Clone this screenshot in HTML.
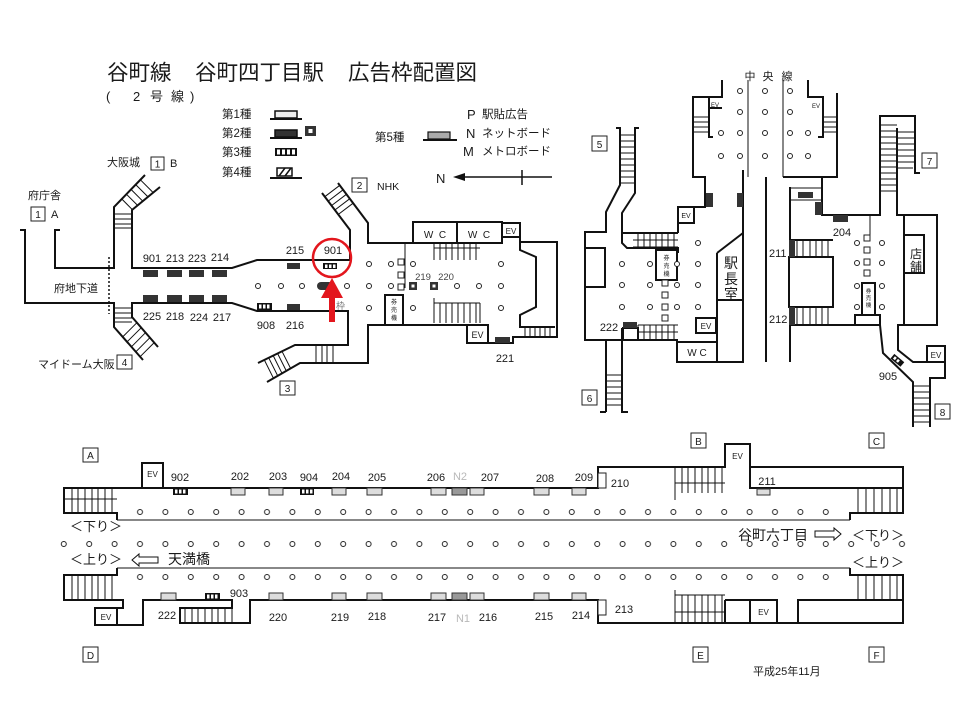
<!DOCTYPE html>
<html><head><meta charset="utf-8">
<style>
html,body{margin:0;padding:0;background:#fff;width:960px;height:720px;overflow:hidden}
svg{display:block}
text{font-family:"Liberation Sans","Noto Sans CJK JP",sans-serif;fill:#1a1a1a}
text.g{fill:#b8b8b8}
text.g4{fill:#444}
text.g6{fill:#777}
.w{fill:none;stroke:#111;stroke-width:2}
.t{fill:none;stroke:#111;stroke-width:1}
.c{fill:#fff;stroke:#222;stroke-width:1}
.d{fill:#333}
.l{fill:#ddd;stroke:#333;stroke-width:1}
.bx{fill:#fff;stroke:#222;stroke-width:1}
</style></head><body>
<svg width="960" height="720" viewBox="0 0 960 720" xmlns="http://www.w3.org/2000/svg">
<defs>
<pattern id="p1" x="127.3" y="505" width="25.4" height="14" patternUnits="userSpaceOnUse"><circle cx="12.7" cy="7" r="2.5" fill="#fff" stroke="#222" stroke-width="1"/></pattern>
<pattern id="p2" x="51.1" y="537" width="25.4" height="14" patternUnits="userSpaceOnUse"><circle cx="12.7" cy="7" r="2.5" fill="#fff" stroke="#222" stroke-width="1"/></pattern>
<pattern id="p3" x="127.3" y="570" width="25.4" height="14" patternUnits="userSpaceOnUse"><circle cx="12.7" cy="7" r="2.5" fill="#fff" stroke="#222" stroke-width="1"/></pattern>
</defs>

<!-- Title -->
<text x="107" y="80" font-size="21.5">谷町線</text>
<text x="195" y="80" font-size="21.5">谷町四丁目駅</text>
<text x="348" y="80" font-size="21.5">広告枠配置図</text>
<text x="106" y="101" font-size="13">(</text>
<text x="133" y="101" font-size="13">2</text>
<text x="150" y="101" font-size="13">号</text>
<text x="171" y="101" font-size="13">線</text>
<text x="190" y="101" font-size="13">)</text>

<!-- Legend -->
<text x="222" y="118" font-size="11.5">第1種</text>
<rect x="275" y="111" width="22" height="7" fill="#eee" stroke="#111" stroke-width="1.5"/>
<line x1="270" y1="119" x2="302" y2="119" stroke="#111" stroke-width="2"/>
<text x="222" y="137" font-size="11.5">第2種</text>
<rect x="275" y="130" width="22" height="7" fill="#333" stroke="#111" stroke-width="1.5"/>
<line x1="270" y1="138" x2="302" y2="138" stroke="#111" stroke-width="2"/>
<rect x="305" y="126" width="11" height="10" fill="#333"/><rect x="308.5" y="129" width="4" height="4" fill="#fff"/>
<text x="222" y="156" font-size="11.5">第3種</text>
<rect x="275" y="148" width="22" height="8" fill="#111"/>
<rect x="277" y="149.5" width="3" height="5" fill="#fff"/><rect x="282" y="149.5" width="3" height="5" fill="#fff"/><rect x="287" y="149.5" width="3" height="5" fill="#fff"/><rect x="292" y="149.5" width="3" height="5" fill="#fff"/>
<text x="222" y="176" font-size="11.5">第4種</text>
<rect x="277" y="168" width="15" height="8" fill="#fff" stroke="#111" stroke-width="1.5"/>
<path d="M279,176 L285,168 M285,176 L291,168" stroke="#111" stroke-width="1.5"/>
<line x1="270" y1="178" x2="302" y2="178" stroke="#111" stroke-width="2"/>
<text x="375" y="141" font-size="11.5">第5種</text>
<rect x="428" y="132" width="22" height="7" fill="#aaa" stroke="#111" stroke-width="1.2"/>
<line x1="423" y1="140" x2="457" y2="140" stroke="#111" stroke-width="2"/>
<text x="467" y="119" font-size="13">P</text><text x="482" y="118" font-size="11.5">駅貼広告</text>
<text x="466" y="138" font-size="13">N</text><text x="482" y="137" font-size="11.5">ネットボード</text>
<text x="463" y="156" font-size="13">M</text><text x="482" y="155" font-size="11.5">メトロボード</text>
<text x="436" y="183" font-size="13">N</text>
<line x1="460" y1="177" x2="552" y2="177" stroke="#111" stroke-width="1.5"/>
<polygon points="453,177 465,173 465,181" fill="#111"/>
<line x1="522" y1="170" x2="522" y2="185" stroke="#111" stroke-width="1.5"/>

<!-- ===== Left concourse (Tanimachi line) ===== -->
<text x="107" y="166" font-size="11">大阪城</text>
<rect x="151" y="157" width="13" height="13" class="bx"/><text x="157.5" y="167.5" font-size="10" text-anchor="middle">1</text>
<text x="170" y="167" font-size="11">B</text>
<text x="28" y="199" font-size="11">府庁舎</text>
<rect x="31" y="207" width="14" height="14" class="bx"/><text x="38" y="218" font-size="10" text-anchor="middle">1</text>
<text x="51" y="218" font-size="11">A</text>
<text x="38" y="368" font-size="11">マイドーム大阪</text>
<rect x="117" y="355" width="15" height="14" class="bx"/><text x="124.5" y="366" font-size="10" text-anchor="middle">4</text>
<rect x="280" y="381" width="15" height="14" class="bx"/><text x="287.5" y="392" font-size="10" text-anchor="middle">3</text>
<rect x="352" y="178" width="15" height="14" class="bx"/><text x="359.5" y="189" font-size="10" text-anchor="middle">2</text>
<text x="377" y="190" font-size="10.5">NHK</text>

<path class="w" d="M20,230 H25 V303 H114 V327 L143,360"/>
<path class="w" d="M60,230 H55 V268 H114 V207 L145,175"/>
<path class="w" d="M160,187 L132,210 V268 H232 L257,260 H350 V230 L322,193"/>
<path class="w" d="M158,347 L132,317 V303 H232 L257,311 H348 V345 H295 L258,363"/>
<path class="w" d="M267,382 L300,363 H368 V325 H467 V343 H513 V337 H557 V242 H520 V237 H502 V223 H520 V237"/>
<path class="w" d="M338,183 L368,223 V243 H413 V222 H502 V243 H413"/>
<line x1="457" y1="222" x2="457" y2="243" class="w"/>
<path class="w" d="M520,242 V250 L536,257 V307 L520,315 V327 H555"/>
<line x1="109" y1="257" x2="109" y2="314" stroke="#111" stroke-width="1.5" stroke-dasharray="2,2"/>
<!-- stair treads left -->
<path class="t" d="M114,214H132M114,219H132M114,224H132M114,228H132
M121.8,199L132.4,209.7M126.4,194.2L137.6,205.4M131,189.4L142.8,201.2M135.7,184.6L148,196.9M140.4,179.8L153.2,192.6
M114,308H132M114,313H132M114,318H132M114,322H132
M122.7,336.9L136.9,322.7M127,341.9L141.3,327.7M131.4,346.8L145.5,332.7M135.8,351.8L149.9,337.7M140.1,356.7L154.2,342.6
M324.8,196.7L339.8,185.3M328.2,201.1L343.1,189.8M331.5,205.6L346.4,194.3M334.9,210L349.8,198.7M338.2,214.5L353.1,203.2
M282,351.3L290.6,368.4M277.6,353.5L286.3,370.9M273.2,355.6L282,373.3M268.7,357.8L277.8,376M264.3,359.9L273.5,378.3
M316,345V363M322,345V363M327,345V363M333,345V363"/>
<!-- center hall details -->
<path class="t" d="M405,243V288 M434,243H480 M434,243V260 M434,248H480 M440,243V260M446,243V260M452,243V260M458,243V260M464,243V260M470,243V260M476,243V260
M434,298V323 M434,303H480 M440,303V323M446,303V323M452,303V323M458,303V323M464,303V323M470,303V323M476,303V323 M480,303V323
M525,327V337M530,327V337M535,327V337M540,327V337M545,327V337M550,327V337"/>
<text x="435" y="238" font-size="10" text-anchor="middle">W&#160;&#160;C</text>
<text x="479" y="238" font-size="10" text-anchor="middle">W&#160;&#160;C</text>
<text x="511" y="234" font-size="8" text-anchor="middle">EV</text>
<rect x="467" y="325" width="21" height="18" fill="#fff" stroke="#111" stroke-width="2"/>
<text x="477.5" y="338" font-size="9" text-anchor="middle">EV</text>
<rect x="385" y="295" width="18" height="30" fill="#fff" stroke="#111" stroke-width="2"/>
<text x="394" y="304" font-size="6" text-anchor="middle">券</text>
<text x="394" y="312" font-size="6" text-anchor="middle">売</text>
<text x="394" y="320" font-size="6" text-anchor="middle">機</text>
<rect x="495" y="337" width="15" height="6" class="d"/>
<text x="505" y="362" font-size="11" text-anchor="middle">221</text>
<!-- columns center -->
<g fill="#fff" stroke="#222" stroke-width="1">
<circle cx="258" cy="286" r="2.5"/><circle cx="281" cy="286" r="2.5"/><circle cx="302" cy="286" r="2.5"/><circle cx="347" cy="286" r="2.5"/><circle cx="369" cy="286" r="2.5"/><circle cx="391" cy="286" r="2.5"/><circle cx="457" cy="286" r="2.5"/><circle cx="479" cy="286" r="2.5"/><circle cx="501" cy="286" r="2.5"/>
<circle cx="369" cy="264" r="2.5"/><circle cx="391" cy="264" r="2.5"/><circle cx="413" cy="264" r="2.5"/><circle cx="501" cy="264" r="2.5"/>
<circle cx="369" cy="308" r="2.5"/><circle cx="413" cy="308" r="2.5"/><circle cx="501" cy="308" r="2.5"/>
<rect x="398" y="259" width="6" height="6"/><rect x="398" y="272" width="6" height="6"/><rect x="398" y="284" width="6" height="6"/>
</g>
<rect x="409" y="282" width="8" height="8" fill="#333"/><rect x="411.5" y="284.5" width="3" height="3" fill="#fff"/>
<rect x="430" y="282" width="8" height="8" fill="#333"/><rect x="432.5" y="284.5" width="3" height="3" fill="#fff"/>
<text x="423" y="280" font-size="9.5" class="g4" text-anchor="middle">219</text>
<text x="446" y="280" font-size="9.5" class="g4" text-anchor="middle">220</text>
<!-- ad boxes left -->
<rect x="143" y="270" width="15" height="7" class="d"/><rect x="167" y="270" width="15" height="7" class="d"/><rect x="189" y="270" width="15" height="7" class="d"/><rect x="212" y="270" width="15" height="7" class="d"/>
<rect x="143" y="295" width="15" height="7" class="d"/><rect x="167" y="295" width="15" height="7" class="d"/><rect x="189" y="295" width="15" height="7" class="d"/><rect x="212" y="295" width="15" height="7" class="d"/>
<text x="152" y="262" font-size="11" text-anchor="middle">901</text>
<text x="175" y="262" font-size="11" text-anchor="middle">213</text>
<text x="197" y="262" font-size="11" text-anchor="middle">223</text>
<text x="220" y="261" font-size="11" text-anchor="middle">214</text>
<text x="152" y="320" font-size="11" text-anchor="middle">225</text>
<text x="175" y="320" font-size="11" text-anchor="middle">218</text>
<text x="199" y="321" font-size="11" text-anchor="middle">224</text>
<text x="222" y="321" font-size="11" text-anchor="middle">217</text>
<text x="76" y="292" font-size="11" text-anchor="middle">府地下道</text>
<rect x="287" y="263" width="13" height="6" class="d"/>
<rect x="287" y="304" width="13" height="6" class="d"/>
<text x="295" y="254" font-size="11" text-anchor="middle">215</text>
<text x="295" y="329" font-size="11" text-anchor="middle">216</text>
<text x="266" y="329" font-size="11" text-anchor="middle">908</text>
<rect x="257" y="303" width="15" height="7" fill="#111"/><rect x="259" y="304.5" width="2.5" height="4" fill="#fff"/><rect x="263" y="304.5" width="2.5" height="4" fill="#fff"/><rect x="267" y="304.5" width="2.5" height="4" fill="#fff"/>
<rect x="323" y="263" width="14" height="6" fill="#111"/><rect x="325" y="264.5" width="2.5" height="3.5" fill="#fff"/><rect x="329" y="264.5" width="2.5" height="3.5" fill="#fff"/><rect x="333" y="264.5" width="2.5" height="3.5" fill="#fff"/>
<text x="333" y="254" font-size="11" text-anchor="middle">901</text>
<rect x="317" y="282" width="16" height="8" rx="4" fill="#333"/>
<text x="336" y="309" font-size="9" class="g6">枠</text>
<circle cx="332" cy="258" r="19" fill="none" stroke="#e3161d" stroke-width="2.5"/>
<rect x="329" y="295" width="6" height="27" fill="#e3161d"/>
<polygon points="321,298 332,278 343,298" fill="#e3161d"/>

<!-- ===== Chuo line area ===== -->
<text x="750" y="80" font-size="11" text-anchor="middle">中</text>
<text x="768" y="80" font-size="11" text-anchor="middle">央</text>
<text x="787" y="80" font-size="11" text-anchor="middle">線</text>
<rect x="592" y="136" width="15" height="15" class="bx"/><text x="599.5" y="148" font-size="10" text-anchor="middle">5</text>
<rect x="582" y="390" width="15" height="15" class="bx"/><text x="589.5" y="402" font-size="10" text-anchor="middle">6</text>
<rect x="922" y="153" width="15" height="15" class="bx"/><text x="929.5" y="165" font-size="10" text-anchor="middle">7</text>
<rect x="935" y="404" width="15" height="15" class="bx"/><text x="942.5" y="416" font-size="10" text-anchor="middle">8</text>

<path class="w" d="M616,128 H620 V185 L606,212 V232 H585 V340 H606 V412 M600,412 H606"/>
<path class="w" d="M639,128 H635 V193 L622,213 V243 L627,248 H678 V253"/>
<path class="w" d="M622,233 H678 M622,328 V412 H628"/>
<path class="w" d="M606,340 H677 V362 H743 V170 M717,253 L743,233 M717,253 V362 M717,300 H743 M677,342 H717"/>
<path class="w" d="M722,80 V97 H693 V177 H705 V207 H678 V233"/>
<path class="w" d="M709,97 V137 H713 M709,108 H722"/>
<rect x="678" y="207" width="16" height="16" fill="#fff" stroke="#111" stroke-width="2"/>
<text x="686" y="218" font-size="7" text-anchor="middle">EV</text>
<text x="715" y="107" font-size="6" text-anchor="middle">EV</text>
<rect x="706" y="193" width="7" height="14" class="d"/>
<rect x="737" y="193" width="6" height="14" class="d"/>
<rect x="585" y="248" width="20" height="39" fill="#fff" stroke="#111" stroke-width="2"/>
<rect x="656" y="250" width="21" height="30" fill="#fff" stroke="#111" stroke-width="2"/>
<text x="666.5" y="260" font-size="6" text-anchor="middle">券</text>
<text x="666.5" y="268" font-size="6" text-anchor="middle">売</text>
<text x="666.5" y="276" font-size="6" text-anchor="middle">機</text>
<rect x="623" y="328" width="15" height="12" fill="#fff" stroke="#111" stroke-width="2"/>
<rect x="623" y="322" width="14" height="6" class="d"/>
<text x="609" y="331" font-size="11" text-anchor="middle">222</text>
<rect x="696" y="318" width="20" height="15" fill="#fff" stroke="#111" stroke-width="2"/>
<text x="706" y="329" font-size="8" text-anchor="middle">EV</text>
<text x="697" y="356" font-size="10" text-anchor="middle">W C</text>
<text x="731" y="268" font-size="14" text-anchor="middle">駅</text>
<text x="731" y="284" font-size="14" text-anchor="middle">長</text>
<text x="731" y="299" font-size="14" text-anchor="middle">室</text>
<path class="t" d="M748,80 V177 M783,80 V177 M693,117H709M693,122H709M693,127H709M693,132H709
M620,135H635M620,141H635M620,147H635M620,153H635M620,159H635M620,165H635M620,171H635M620,177H635M620,183H635
M606,375H622M606,381H622M606,387H622M606,393H622M606,399H622M606,405H622
M638,233V247M644,233V247M650,233V247M656,233V247M662,233V247M668,233V247M674,233V247M633,240H678M633,247H678
M638,325V340M644,325V340M650,325V340M656,325V340M662,325V340M668,325V340M674,325V340M638,325H678M638,332H678"/>
<line x1="766" y1="177" x2="766" y2="362" stroke="#111" stroke-width="2"/>
<!-- right part -->
<path class="w" d="M808,80 V97 H823 V137 H818"/>
<path class="w" d="M837,93 V177 H822 V215 H880 V116 H915 V173 H920"/>
<path class="w" d="M783,177 H822 M790,187 V362"/>
<path class="t" d="M790,188 H822 M790,200 H822 M823,117H837M823,122H837M823,127H837M823,132H837"/>
<rect x="798" y="192" width="15" height="6" class="d"/>
<rect x="815" y="202" width="7" height="13" class="d"/>
<rect x="833" y="215" width="15" height="7" class="d"/>
<text x="842" y="236" font-size="11" text-anchor="middle">204</text>
<text x="816" y="108" font-size="6" text-anchor="middle">EV</text>
<path class="w" d="M789,240 H833 M789,325 H880"/>
<rect x="789" y="257" width="44" height="50" fill="#fff" stroke="#111" stroke-width="2"/>
<path class="t" d="M797,240V257M803,240V257M810,240V257M816,240V257M822,240V257M828,240V257
M797,307V325M803,307V325M810,307V325M816,307V325M822,307V325M828,307V325 M870,215V235"/>
<rect x="789" y="240" width="6" height="17" class="d"/>
<rect x="789" y="307" width="6" height="18" class="d"/>
<text x="769" y="257" font-size="11">211</text>
<text x="769" y="323" font-size="11">212</text>
<rect x="855" y="315" width="25" height="10" fill="#fff" stroke="#111" stroke-width="2"/>
<rect x="862" y="283" width="13" height="32" fill="#fff" stroke="#111" stroke-width="2"/>
<text x="868.5" y="293" font-size="5.5" text-anchor="middle">券</text>
<text x="868.5" y="300" font-size="5.5" text-anchor="middle">売</text>
<text x="868.5" y="307" font-size="5.5" text-anchor="middle">機</text>
<path class="w" d="M897,128 V215 H937 V325 H898 V350 L913,362 H927 V346 H945 V378 H930 V427"/>
<path class="w" d="M904,215 V325 M880,325 L883,353 L913,382 V427 M927,362 H945"/>
<rect x="904" y="235" width="20" height="38" fill="#fff" stroke="#111" stroke-width="2"/>
<text x="916" y="258" font-size="12" text-anchor="middle">店</text>
<text x="916" y="271" font-size="12" text-anchor="middle">舗</text>
<text x="936" y="358" font-size="8" text-anchor="middle">EV</text>
<path class="t" d="M880,125H897M880,131H897M880,137H897M880,143H897M880,149H897M880,155H897M880,161H897M880,167H897M880,173H897M880,179H897M880,185H897M880,191H897
M897,132H915M897,138H915M897,144H915M897,150H915M897,156H915M897,162H915M897,168H913
M913,386H930M913,392H930M913,398H930M913,404H930M913,410H930M913,416H930M913,422H930"/>
<g transform="rotate(40 897 360)"><rect x="891" y="357" width="13" height="6" fill="#111"/><rect x="893" y="358.5" width="2.5" height="3" fill="#fff"/><rect x="897" y="358.5" width="2.5" height="3" fill="#fff"/></g>
<text x="888" y="380" font-size="11" text-anchor="middle">905</text>
<g fill="#fff" stroke="#222" stroke-width="1">
<circle cx="740" cy="91" r="2.5"/><circle cx="765" cy="91" r="2.5"/><circle cx="790" cy="91" r="2.5"/>
<circle cx="740" cy="112" r="2.5"/><circle cx="765" cy="112" r="2.5"/><circle cx="790" cy="112" r="2.5"/>
<circle cx="721" cy="133" r="2.5"/><circle cx="740" cy="133" r="2.5"/><circle cx="765" cy="133" r="2.5"/><circle cx="790" cy="133" r="2.5"/><circle cx="808" cy="133" r="2.5"/>
<circle cx="721" cy="156" r="2.5"/><circle cx="740" cy="156" r="2.5"/><circle cx="765" cy="156" r="2.5"/><circle cx="790" cy="156" r="2.5"/><circle cx="808" cy="156" r="2.5"/>
<circle cx="698" cy="243" r="2.5"/>
<circle cx="622" cy="264" r="2.5"/><circle cx="650" cy="264" r="2.5"/><circle cx="677" cy="264" r="2.5"/><circle cx="698" cy="264" r="2.5"/>
<circle cx="622" cy="285" r="2.5"/><circle cx="650" cy="285" r="2.5"/><circle cx="677" cy="285" r="2.5"/><circle cx="698" cy="285" r="2.5"/>
<circle cx="622" cy="307" r="2.5"/><circle cx="650" cy="307" r="2.5"/><circle cx="677" cy="307" r="2.5"/><circle cx="698" cy="307" r="2.5"/>
<rect x="662" y="280" width="6" height="6"/><rect x="662" y="292" width="6" height="6"/><rect x="662" y="304" width="6" height="6"/><rect x="662" y="315" width="6" height="6"/>
<circle cx="857" cy="243" r="2.5"/><circle cx="882" cy="243" r="2.5"/>
<circle cx="857" cy="263" r="2.5"/><circle cx="882" cy="263" r="2.5"/>
<circle cx="857" cy="286" r="2.5"/><circle cx="882" cy="286" r="2.5"/>
<circle cx="857" cy="307" r="2.5"/><circle cx="882" cy="307" r="2.5"/>
<rect x="864" y="235" width="6" height="6"/><rect x="864" y="247" width="6" height="6"/><rect x="864" y="259" width="6" height="6"/><rect x="864" y="270" width="6" height="6"/>
</g>

<!-- ===== Platform ===== -->
<rect x="83" y="448" width="15" height="14" class="bx"/><text x="90.5" y="459" font-size="10" text-anchor="middle">A</text>
<rect x="83" y="647" width="15" height="15" class="bx"/><text x="90.5" y="659" font-size="10" text-anchor="middle">D</text>
<rect x="691" y="433" width="15" height="15" class="bx"/><text x="698.5" y="445" font-size="10" text-anchor="middle">B</text>
<rect x="869" y="433" width="15" height="15" class="bx"/><text x="876.5" y="445" font-size="10" text-anchor="middle">C</text>
<rect x="693" y="647" width="15" height="15" class="bx"/><text x="700.5" y="659" font-size="10" text-anchor="middle">E</text>
<rect x="869" y="647" width="15" height="15" class="bx"/><text x="876.5" y="659" font-size="10" text-anchor="middle">F</text>

<path class="w" d="M117,520 V513 H64 V488 H142 V463 H163 V488 H598 V467 H725 V444 H750 V467 H903 V513 H850 V520"/>
<path class="w" d="M750,467 V488 H903"/>
<path class="t" d="M117,520 H850 M117,568 H850"/>
<path class="w" d="M117,568 V575 H64 V600 H123 V608 H95 V625 H143 V600 H232 V608 H180 V623 H250 V600 H598 V623 H903 V575 H850 V568"/>
<path class="w" d="M117,608 V625 M725,600 V623 M725,600 H777 V623 M750,600 V623 M798,623 V600 H903"/>
<path class="t" d="M64,499H117 M72,488V513M78,488V513M85,488V513M92,488V513M98,488V513M105,488V513M112,488V513
M72,575V600M78,575V600M85,575V600M92,575V600M98,575V600M105,575V600M112,575V600
M185,608V623M192,608V623M198,608V623M205,608V623M212,608V623M218,608V623M225,608V623M232,608V623
M675,467V500 M675,483H725 M682,467V493M688,467V493M695,467V493M702,467V493M708,467V493M715,467V493M722,467V493
M675,590V623 M675,612H725 M675,595H725 M682,595V623M688,595V623M695,595V623M702,595V623M708,595V623M715,595V623M722,595V623
M858,488V513M866,488V513M874,488V513M882,488V513M890,488V513M897,488V513
M858,575V600M866,575V600M874,575V600M882,575V600M890,575V600M897,575V600"/>
<rect x="142" y="463" width="21" height="25" fill="none" stroke="#111" stroke-width="2"/>
<text x="152.5" y="477" font-size="8" text-anchor="middle">EV</text>
<text x="737.5" y="459" font-size="8" text-anchor="middle">EV</text>
<text x="106" y="620" font-size="8" text-anchor="middle">EV</text>
<text x="763.5" y="615" font-size="8" text-anchor="middle">EV</text>
<rect x="127.3" y="505" width="711.2" height="14" fill="url(#p1)"/>
<rect x="51.1" y="537" width="863.6" height="14" fill="url(#p2)"/>
<rect x="127.3" y="570" width="711.2" height="14" fill="url(#p3)"/>

<!-- platform ad boxes top -->
<rect x="173" y="488" width="15" height="7" fill="#111"/><rect x="175" y="489.5" width="2.5" height="4" fill="#fff"/><rect x="179" y="489.5" width="2.5" height="4" fill="#fff"/><rect x="183" y="489.5" width="2.5" height="4" fill="#fff"/>
<rect x="300" y="488" width="14" height="7" fill="#111"/><rect x="302" y="489.5" width="2.5" height="4" fill="#fff"/><rect x="306" y="489.5" width="2.5" height="4" fill="#fff"/><rect x="310" y="489.5" width="2.5" height="4" fill="#fff"/>
<rect x="231" y="488" width="14" height="7" class="l"/><rect x="269" y="488" width="14" height="7" class="l"/><rect x="332" y="488" width="14" height="7" class="l"/>
<rect x="367" y="488" width="15" height="7" class="l"/><rect x="431" y="488" width="15" height="7" class="l"/><rect x="452" y="488" width="15" height="7" fill="#999" stroke="#333"/><rect x="470" y="488" width="14" height="7" class="l"/>
<rect x="534" y="488" width="15" height="7" class="l"/><rect x="572" y="488" width="14" height="7" class="l"/>
<rect x="598" y="473" width="8" height="15" class="bx"/>
<rect x="757" y="489" width="13" height="6" class="l"/>
<text x="180" y="481" font-size="11" text-anchor="middle">902</text>
<text x="240" y="480" font-size="11" text-anchor="middle">202</text>
<text x="278" y="480" font-size="11" text-anchor="middle">203</text>
<text x="309" y="481" font-size="11" text-anchor="middle">904</text>
<text x="341" y="480" font-size="11" text-anchor="middle">204</text>
<text x="377" y="481" font-size="11" text-anchor="middle">205</text>
<text x="436" y="481" font-size="11" text-anchor="middle">206</text>
<text x="460" y="480" font-size="11" class="g" text-anchor="middle">N2</text>
<text x="490" y="481" font-size="11" text-anchor="middle">207</text>
<text x="545" y="482" font-size="11" text-anchor="middle">208</text>
<text x="584" y="481" font-size="11" text-anchor="middle">209</text>
<text x="620" y="487" font-size="11" text-anchor="middle">210</text>
<text x="767" y="485" font-size="11" text-anchor="middle">211</text>
<!-- bottom -->
<rect x="161" y="593" width="15" height="7" class="l"/>
<rect x="205" y="593" width="15" height="7" fill="#111"/><rect x="207" y="594.5" width="2.5" height="4" fill="#fff"/><rect x="211" y="594.5" width="2.5" height="4" fill="#fff"/><rect x="215" y="594.5" width="2.5" height="4" fill="#fff"/>
<rect x="269" y="593" width="14" height="7" class="l"/><rect x="332" y="593" width="14" height="7" class="l"/>
<rect x="367" y="593" width="15" height="7" class="l"/><rect x="431" y="593" width="15" height="7" class="l"/><rect x="452" y="593" width="15" height="7" fill="#999" stroke="#333"/><rect x="470" y="593" width="14" height="7" class="l"/>
<rect x="534" y="593" width="15" height="7" class="l"/><rect x="572" y="593" width="14" height="7" class="l"/>
<rect x="598" y="600" width="8" height="15" class="bx"/>
<text x="167" y="619" font-size="11" text-anchor="middle">222</text>
<text x="239" y="597" font-size="11" text-anchor="middle">903</text>
<text x="278" y="621" font-size="11" text-anchor="middle">220</text>
<text x="340" y="621" font-size="11" text-anchor="middle">219</text>
<text x="377" y="620" font-size="11" text-anchor="middle">218</text>
<text x="437" y="621" font-size="11" text-anchor="middle">217</text>
<text x="463" y="622" font-size="11" class="g" text-anchor="middle">N1</text>
<text x="488" y="621" font-size="11" text-anchor="middle">216</text>
<text x="544" y="620" font-size="11" text-anchor="middle">215</text>
<text x="581" y="619" font-size="11" text-anchor="middle">214</text>
<text x="624" y="613" font-size="11" text-anchor="middle">213</text>

<text x="70" y="531" font-size="13">＜下り＞</text>
<text x="70" y="564" font-size="13">＜上り＞</text>
<path d="M132,560 L139,554 V557 H158 V563 H139 V566 Z" fill="#fff" stroke="#111" stroke-width="1"/>
<text x="168" y="564" font-size="14">天満橋</text>
<text x="738" y="540" font-size="14">谷町六丁目</text>
<path d="M841,534 L834,528 V531 H815 V537 H834 V540 Z" fill="#fff" stroke="#111" stroke-width="1"/>
<text x="852" y="540" font-size="13">＜下り＞</text>
<text x="852" y="567" font-size="13">＜上り＞</text>
<text x="753" y="675" font-size="11">平成25年11月</text>
</svg>
</body></html>
